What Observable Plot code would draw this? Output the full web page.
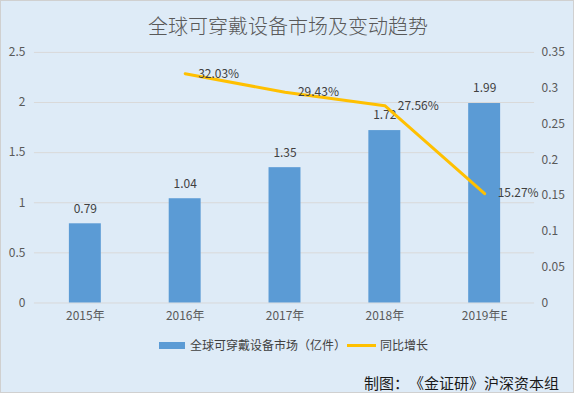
<!DOCTYPE html>
<html><head><meta charset="utf-8">
<script src="https://cdn.jsdelivr.net/npm/d3@7"></script>
<script src="https://cdn.jsdelivr.net/npm/@observablehq/plot@0.6"></script>
<style>
body{margin:0;}
#wrap{position:relative;width:574px;height:393px;background:#DEEBF7;border:1px solid #d0d0d0;box-sizing:border-box;overflow:hidden;font-family:'Noto Sans CJK SC',sans-serif;text-spacing-trim:space-all;}
#chart{position:absolute;left:-1px;top:-1px;}
#title{position:absolute;left:0;width:574px;top:11px;text-align:center;font-size:20px;color:#595959;font-weight:300;line-height:28px;}
#legend{position:absolute;top:335px;left:158px;font-size:12px;color:#404040;display:flex;align-items:center;line-height:18px;}
.sw{display:inline-block;}
#caption{position:absolute;left:363px;top:371px;font-size:15px;color:#1a1a1a;line-height:22px;}
</style>
</head><body>
<div id="wrap">
<div id="chart"></div>
<div id="title">全球可穿戴设备市场及变动趋势</div>
<div id="legend"><span class="sw" style="width:26px;height:7px;background:#5B9BD5;"></span><span style="margin-left:5px;">全球可穿戴设备市场（亿件）</span><span class="sw" style="width:29px;height:3px;background:#FFC000;margin-left:1px;"></span><span style="margin-left:4px;">同比增长</span></div>
<div id="caption">制图：《金证研》沪深资本组</div>
</div>
<script>
const categories = ["2015年","2016年","2017年","2018年","2019年E"];
const market = [0.79, 1.04, 1.35, 1.72, 1.99];
const growth = [null, 0.3203, 0.2943, 0.2756, 0.1527];
const growthLabels = [null, "32.03%", "29.43%", "27.56%", "15.27%"];
const leftTicks = [0, 0.5, 1, 1.5, 2, 2.5];
const rightTicks = [0, 0.05, 0.1, 0.15, 0.2, 0.25, 0.3, 0.35];

const k = 2.5 / 0.35;
const data = categories.map((c, i) => ({cat: c, market: market[i]}));
const lineData = categories.map((c, i) => ({cat: c, growth: growth[i], label: growthLabels[i]})).filter(d => d.growth != null);

const chart = Plot.plot({
  width: 574, height: 393,
  marginTop: 52, marginBottom: 90, marginLeft: 34, marginRight: 39,
  style: {background: "transparent", fontFamily: "'Noto Sans CJK SC', sans-serif", fontSize: "12px", color: "#595959"},
  x: {domain: categories, paddingInner: 0.68, paddingOuter: 0.34},
  y: {domain: [0, 2.5]},
  marks: [
    Plot.gridY(leftTicks, {stroke: "#d9d9d9", strokeOpacity: 1}),
    Plot.axisY(leftTicks, {anchor: "left", tickSize: 0, tickPadding: 9, label: null, tickFormat: d => String(d)}),
    Plot.axisY(rightTicks.map(t => t * k), {anchor: "right", tickSize: 0, tickPadding: 7, label: null, tickFormat: d => String(+(d / k).toFixed(2))}),
    Plot.axisX({tickSize: 0, tickPadding: 9, label: null}),
    Plot.barY(data, {x: "cat", y: "market", fill: "#5B9BD5"}),
    Plot.text(data, {x: "cat", y: "market", text: d => d.market.toFixed(2), dy: -15, fill: "#404040"}),
    Plot.line(lineData, {x: "cat", y: d => d.growth * k, stroke: "#FFC000", strokeWidth: 3}),
    Plot.text(lineData, {x: "cat", y: d => d.growth * k, text: "label", textAnchor: "start", dx: 13, fill: "#404040"})
  ]
});
document.getElementById("chart").appendChild(chart);
</script>
</body></html>
